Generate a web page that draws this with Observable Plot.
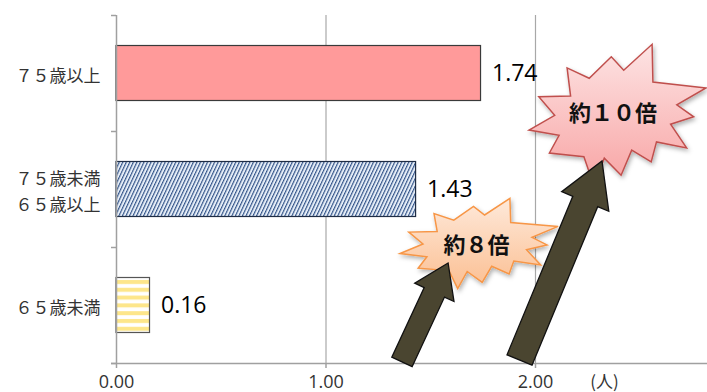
<!DOCTYPE html>
<html><head><meta charset="utf-8">
<script src="https://cdn.jsdelivr.net/npm/d3@7"></script>
<script src="https://cdn.jsdelivr.net/npm/@observablehq/plot@0.6"></script>
<style>
html,body{margin:0;padding:0;background:#fff;}
#chart svg{display:block;}
</style>
</head><body>
<svg width="0" height="0" style="position:absolute">
<defs>
  <pattern id="diag" patternUnits="userSpaceOnUse" width="3.2" height="6" patternTransform="rotate(25)">
    <rect width="3.2" height="6" fill="#e6eef8"/>
    <rect width="1.15" height="6" fill="#34558a"/>
  </pattern>
  <pattern id="hstripe" patternUnits="userSpaceOnUse" width="8" height="7.8" y="278">
    <rect width="8" height="7.8" fill="#ffffff"/>
    <rect y="2" width="8" height="4" fill="#fde68a"/>
  </pattern>
  <linearGradient id="gOrange" x1="0" y1="0" x2="0" y2="1">
    <stop offset="0" stop-color="#fee9da"/>
    <stop offset="1" stop-color="#fbbf92"/>
  </linearGradient>
  <linearGradient id="gPink" x1="0" y1="0" x2="0" y2="1">
    <stop offset="0" stop-color="#fde4e4"/>
    <stop offset="1" stop-color="#f8a4a4"/>
  </linearGradient>
  <filter id="shadow" x="-20%" y="-20%" width="140%" height="150%">
    <feDropShadow dx="1.5" dy="2.5" stdDeviation="2" flood-color="#000" flood-opacity="0.3"/>
  </filter>
</defs>
</svg>
<div id="chart"></div>
<script>
// ---- data ----
const categories = ["７５歳以上", "７５歳未満\n６５歳以上", "６５歳未満"];
const values = [1.74, 1.43, 0.16];
const valueLabels = ["1.74", "1.43", "0.16"];
const xTicks = [0, 1, 2];
const xTickLabels = ["0.00", "1.00", "2.00"];
const unitLabel = "(人)";
const callouts = ["約８倍", "約１０倍"];
const calloutX = [1.718, 2.370];
const calloutY = [1.983, 0.853];
const starX = [1.733, 2.394];
const starY = [1.978, 0.871];
const arrowFromX = [1.365, 1.926];
const arrowFromY = [2.991, 2.974];
const arrowToX = [1.585, 2.320];
const arrowToY = [2.138, 1.259];

// ---- styles ----
const xMax = 2.821;
const barFills = ["#ff9a9a", "url(#diag)", "url(#hstripe)"];
const barStrokes = ["#3a3a3a", "#1f2d45", "#555555"];
const starStyles = [
  {rx: 79, ry: 47.5, fill: "url(#gOrange)", stroke: "#f79646"},
  {rx: 88.5, ry: 74, fill: "url(#gPink)", stroke: "#c0504d"}
];
const arrowStyles = [
  {shaft: 11.2, head: 21.7, headLen: 32.4},
  {shaft: 13.5, head: 25.5, headLen: 43.8}
];
// normalized outline of the explosion shape
const starShape = [[-1,0.19],[-0.71,-0.01],[-0.89,-0.26],[-0.53,-0.27],[-0.57,-0.65],[-0.32,-0.51],
  [-0.07,-0.80],[0.07,-0.62],[0.39,-0.97],[0.40,-0.46],[1.0,-0.38],[0.67,-0.15],[0.86,0.01],[0.60,0.11],
  [0.78,0.43],[0.44,0.35],[0.38,0.62],[0.16,0.46],[0.04,0.80],[-0.15,0.57],[-0.27,0.93],[-0.38,0.55],
  [-0.77,0.50],[-0.66,0.26]];

const bars = categories.map((c, i) => ({cat: c, value: values[i], label: valueLabels[i], y1: i, y2: i + 1, ym: i + 0.5}));

function calloutLayer(index, scales) {
  const {x, y} = scales;
  const g = d3.create("svg:g");
  starStyles.forEach((s, i) => {
    const cx = x(starX[i]), cy = y(starY[i]);
    const d = "M" + starShape.map(([u, v]) => (cx + u * s.rx).toFixed(1) + "," + (cy + v * s.ry).toFixed(1)).join("L") + "Z";
    g.append("path").attr("d", d).attr("fill", s.fill).attr("stroke", s.stroke)
      .attr("stroke-width", 1.5).attr("stroke-linejoin", "miter").attr("filter", "url(#shadow)");
  });
  arrowStyles.forEach((a, i) => {
    const x0 = x(arrowFromX[i]), y0 = y(arrowFromY[i]);
    const x1 = x(arrowToX[i]), y1 = y(arrowToY[i]);
    const L = Math.hypot(x1 - x0, y1 - y0);
    const dx = (x1 - x0) / L, dy = (y1 - y0) / L;
    const nx = -dy, ny = dx;
    const bx = x1 - dx * a.headLen, by = y1 - dy * a.headLen;
    const pts = [
      [x0 + nx * a.shaft, y0 + ny * a.shaft],
      [bx + nx * a.shaft, by + ny * a.shaft],
      [bx + nx * a.head, by + ny * a.head],
      [x1, y1],
      [bx - nx * a.head, by - ny * a.head],
      [bx - nx * a.shaft, by - ny * a.shaft],
      [x0 - nx * a.shaft, y0 - ny * a.shaft]
    ];
    g.append("path").attr("d", "M" + pts.map(p => p[0].toFixed(1) + "," + p[1].toFixed(1)).join("L") + "Z")
      .attr("fill", "#4a4530").attr("stroke", "#111").attr("stroke-width", 1.3).attr("stroke-linejoin", "miter");
  });
  return g.node();
}

const plot = Plot.plot({
  width: 707,
  height: 392,
  marginTop: 15,
  marginBottom: 29,
  marginLeft: 116,
  marginRight: 0,
  x: {domain: [0, xMax], axis: null},
  y: {domain: [0, 3], reverse: true, axis: null},
  style: {fontFamily: "'Noto Sans CJK JP', sans-serif", background: "#ffffff", overflow: "visible"},
  marks: [
    Plot.ruleX([1, 2], {stroke: "#a8a8a8", strokeWidth: 1.2}),
    ...bars.map((b, i) => Plot.rectX([b], {
      x1: () => 0, x2: "value", y1: "y1", y2: "y2",
      insetTop: 30.5, insetBottom: 30.5,
      fill: barFills[i], stroke: barStrokes[i], strokeWidth: 1.2
    })),
    Plot.ruleX([0], {stroke: "#a0a0a0", strokeWidth: 1.5}),
    Plot.ruleY([0, 1, 2, 3], {x1: () => 0, x2: () => 0, insetLeft: -5, stroke: "#a0a0a0", strokeWidth: 1.5}),
    Plot.ruleY([3], {x1: () => 0, x2: () => xMax, insetLeft: -5, stroke: "#a0a0a0", strokeWidth: 1.5}),
    Plot.ruleX(xTicks, {y1: () => 3, y2: () => 3, insetBottom: -5, stroke: "#a0a0a0", strokeWidth: 1.5}),
    Plot.text(xTicks, {x: d => d, y: () => 3, text: (d, i) => xTickLabels[i], dy: 19, fontSize: 18,
      fontFamily: "'Open Sans', sans-serif", fill: "#333"}),
    Plot.text([unitLabel], {x: () => 2.329, y: () => 3, text: d => d, dy: 19, fontSize: 17, fill: "#333"}),
    Plot.text(bars, {x: () => 0, y: "ym", text: "cat", textAnchor: "end", dx: -16, fontSize: 17,
      lineHeight: 1.55, fill: "#333"}),
    Plot.text(bars, {x: "value", y: "ym", text: "label", textAnchor: "start", dx: 11, fontSize: 23,
      fontFamily: "'Open Sans', sans-serif", fill: "#000"}),
    calloutLayer,
    Plot.text(callouts, {x: (d, i) => calloutX[i], y: (d, i) => calloutY[i], text: d => d,
      fontSize: 22, fontWeight: 600, fill: "#111"})
  ]
});
document.getElementById("chart").append(plot);
</script>
</body></html>
